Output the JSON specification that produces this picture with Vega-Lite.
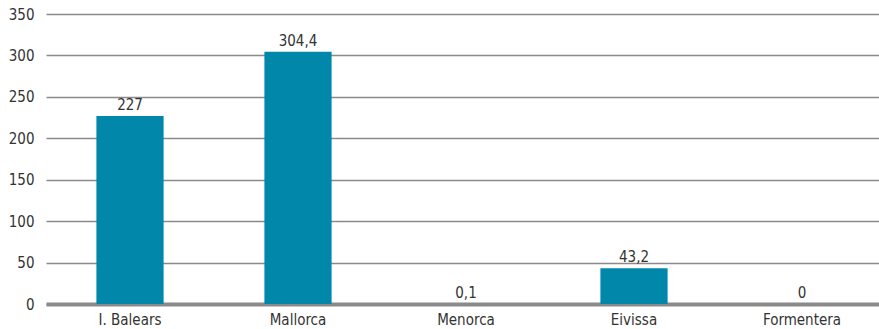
{
  "$schema": "https://vega.github.io/schema/vega-lite/v6.json",
  "autosize": "none",
  "padding": {"left": 46, "top": 14, "right": 0, "bottom": 25},
  "width": 840,
  "height": 290,
  "background": "white",
  "config": {
    "view": {"stroke": null},
    "font": "DejaVu Sans Condensed"
  },
  "data": {
    "values": [
      {"isla": "I. Balears", "valor": 227, "etiqueta": "227"},
      {"isla": "Mallorca", "valor": 304.4, "etiqueta": "304,4"},
      {"isla": "Menorca", "valor": 0.1, "etiqueta": "0,1"},
      {"isla": "Eivissa", "valor": 43.2, "etiqueta": "43,2"},
      {"isla": "Formentera", "valor": 0, "etiqueta": "0"}
    ]
  },
  "encoding": {
    "x": {
      "field": "isla",
      "type": "nominal",
      "sort": null,
      "scale": {"paddingInner": 0.6, "paddingOuter": 0.3},
      "axis": {
        "title": null,
        "labelAngle": 0,
        "ticks": false,
        "domainColor": "#8a8a8a",
        "domainWidth": 4,
        "labelFontSize": 15,
        "labelColor": "#333333",
        "labelPadding": 8,
        "labelFont": "DejaVu Sans Condensed"
      }
    },
    "y": {
      "field": "valor",
      "type": "quantitative",
      "scale": {"domain": [0, 350], "nice": false},
      "axis": {
        "title": null,
        "values": [0, 50, 100, 150, 200, 250, 300, 350],
        "domain": false,
        "ticks": false,
        "gridColor": "#8a8a8a",
        "gridWidth": 1.5,
        "labelFontSize": 15,
        "labelColor": "#333333",
        "labelPadding": 12,
        "labelFont": "DejaVu Sans Condensed"
      }
    }
  },
  "layer": [
    {"mark": {"type": "bar", "color": "#0087a9"}},
    {
      "mark": {"type": "text", "baseline": "bottom", "dy": -3, "fontSize": 15, "color": "#333333"},
      "encoding": {"text": {"field": "etiqueta"}}
    }
  ]
}
